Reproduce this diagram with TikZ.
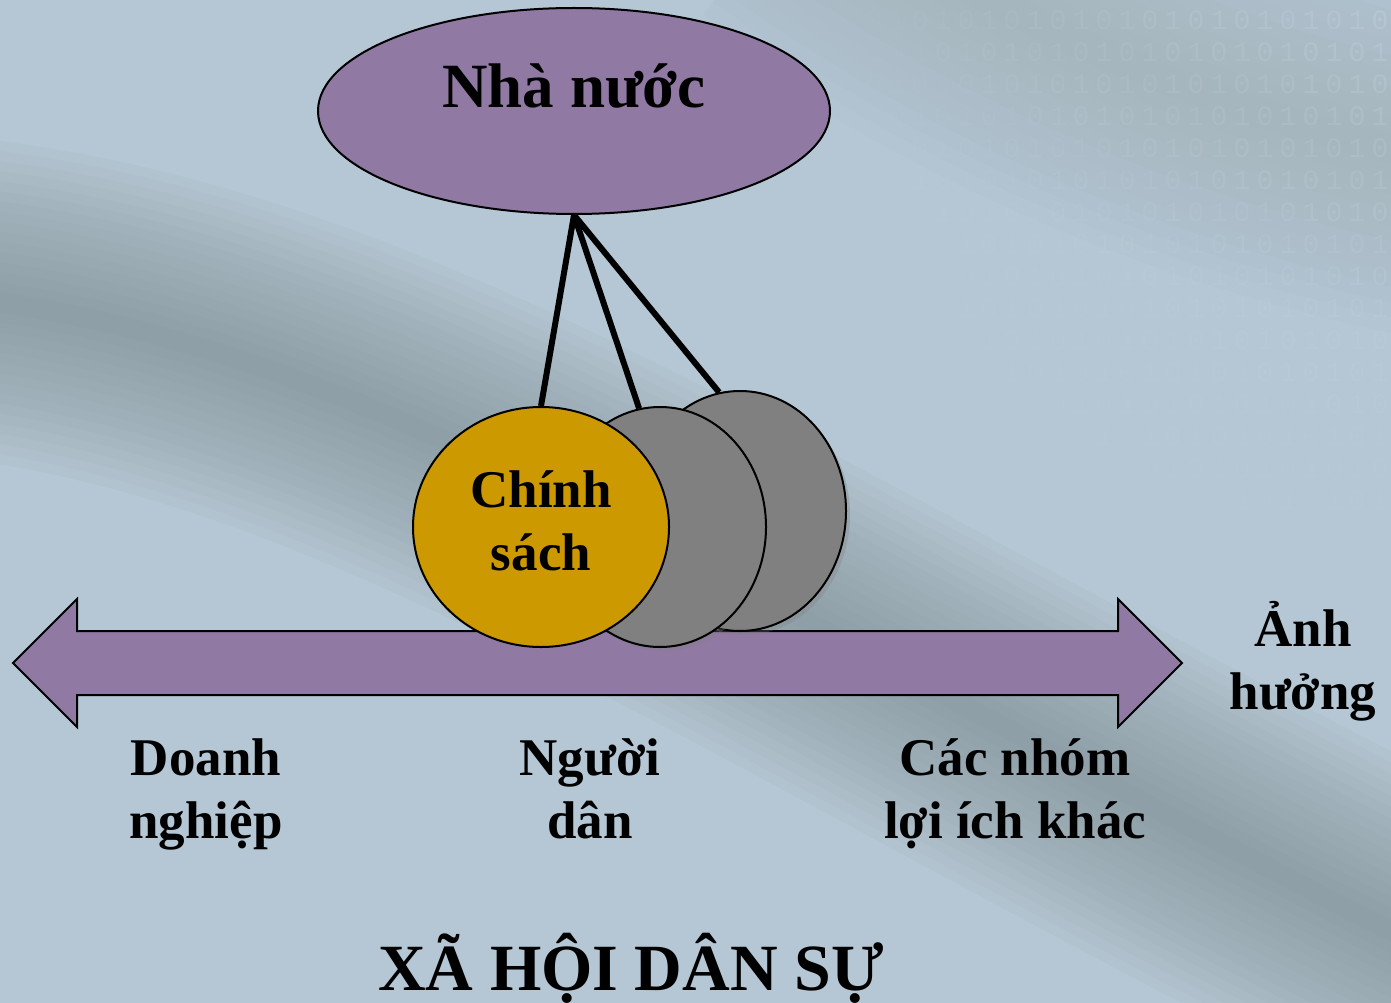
\documentclass[tikz,border=0pt]{standalone}
\usepackage{fontspec}
\setmainfont{Liberation Serif}
\newfontfamily\digitfont{Liberation Mono}
\usetikzlibrary{shapes.geometric,shadows}
\pgfdeclarelayer{back}
\pgfdeclarelayer{wires}
\pgfsetlayers{back,wires,main}
\definecolor{bgl}{HTML}{B5C7D4}
\definecolor{bgd}{HTML}{7C8A90}
\definecolor{purp}{HTML}{9079A3}
\definecolor{gold}{HTML}{CC9900}
\definecolor{gry}{HTML}{808080}
\begin{document}
\begin{tikzpicture}[x=1pt,y=-1pt,
  lbl/.style={font=\fontsize{53}{63}\selectfont\bfseries, align=center, inner sep=0},
  outl/.style={draw=black, line width=2pt},
  disc/.style={ellipse, outl, inner sep=0},
  wire/.style={line width=6pt, black},
  digit/.style={text=white, font=\digitfont\fontsize{28}{28}\selectfont, inner sep=0}]
\useasboundingbox (0,0) rectangle (1391,1003);
\begin{pgfonlayer}{back}
  \fill[bgl] (0,0) rectangle (1391,1003);
  \clip (0,0) rectangle (1391,1003);
  \foreach \w in {320,300,...,20} {
    \draw[bgd, line width=\w pt, opacity=0.05] (-150,290) .. controls (350,300) and (750,620) .. (1550,1010);
  }
  \foreach \w in {360,330,...,30} {
    \draw[bgd, line width=\w pt, opacity=0.018] (800,-120) .. controls (1050,60) and (1300,140) .. (1550,180);
  }
  \foreach \r in {0,...,17} {
    \foreach \c in {0,...,25} {
      \pgfmathsetmacro\op{0.11*(1-\c/26)*(1-\r/19)}
      \pgfmathtruncatemacro\d{mod(\r+\c,2)}
      \node[digit, opacity=\op] (d-\r-\c) at (1380-\c*23, 20+\r*32) {\d};
    }
  }
\end{pgfonlayer}

% double arrow
\fill[purp] (13,663) -- (77,599) -- (77,631) -- (1118,631) -- (1118,599) -- (1182,663)
  -- (1118,727) -- (1118,695) -- (77,695) -- (77,727) -- cycle;
\draw[line width=2pt, line join=miter] (13,663) -- (77,599) -- (77,631) -- (1118,631) -- (1118,599) -- (1182,663)
  -- (1118,727) -- (1118,695) -- (77,695) -- (77,727) -- cycle;

% state
\node[disc, fill=purp, minimum width=512pt, minimum height=206pt] (state) at (574,111) {};
\node[lbl, font=\fontsize{63}{70}\selectfont\bfseries, anchor=base] (statet) at (574,108) {Nhà nước};

% discs
\node[disc, fill=gry, minimum width=212pt, minimum height=240pt,
  drop shadow={opacity=0.3, shadow xshift=4pt, shadow yshift=-4pt}] (c3) at (740,511) {};
\node[disc, fill=gry, minimum width=212pt, minimum height=240pt,
  drop shadow={opacity=0.3, shadow xshift=4pt, shadow yshift=-4pt}] (c2) at (660,527) {};
\node[disc, fill=gold, minimum width=256pt, minimum height=240pt] (c1) at (541,527) {};
\node[lbl, anchor=base] (policy) at (541,570) {Chính\\sách};

\begin{pgfonlayer}{wires}
  \draw[wire] (state.south) -- (c1.north);
  \draw[wire] (state.south) -- (c2.100);
  \draw[wire] (state.south) -- (c3.100);
\end{pgfonlayer}

% labels
\node[lbl, anchor=base] (biz) at (206,838) {Doanh\\nghiệp};
\node[lbl, anchor=base] (people) at (590,838) {Người\\dân};
\node[lbl, anchor=base] (groups) at (1015,838) {Các nhóm\\lợi ích khác};
\node[lbl, anchor=base] (infl) at (1303,709) {Ảnh\\hưởng};
\node[lbl, font=\fontsize{66}{70}\selectfont\bfseries, anchor=base] (civil) at (631,990) {XÃ HỘI DÂN SỰ};
\end{tikzpicture}
\end{document}
